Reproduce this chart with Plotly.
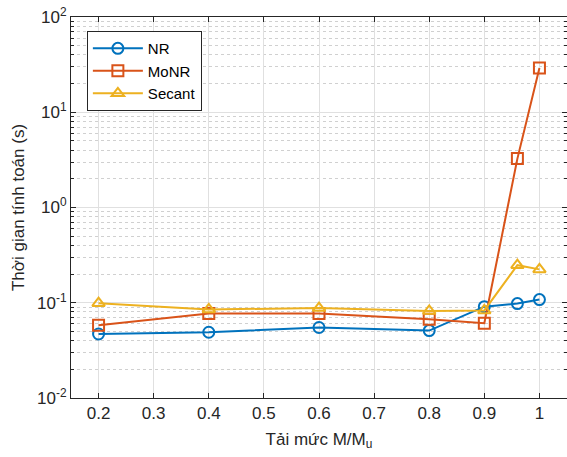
import plotly.graph_objects as go

x_vals = [0.2, 0.4, 0.6, 0.8, 0.9, 0.96, 1.0]
nr = [0.047, 0.049, 0.055, 0.051, 0.091, 0.098, 0.108]
monr = [0.058, 0.077, 0.077, 0.067, 0.061, 3.26, 29.2]
secant = [0.099, 0.085, 0.088, 0.082, 0.083, 0.248, 0.224]

series_names = ["NR", "MoNR", "Secant"]
colors = ["#0072BD", "#D95319", "#EDB120"]
symbols = ["circle-open", "square-open", "triangle-up-open"]

x_ticks = [0.2, 0.3, 0.4, 0.5, 0.6, 0.7, 0.8, 0.9, 1.0]
x_ticktext = ["0.2", "0.3", "0.4", "0.5", "0.6", "0.7", "0.8", "0.9", "1"]
y_ticks = [0.01, 0.1, 1, 10, 100]
y_ticktext = ["10<sup>-2</sup>", "10<sup>-1</sup>", "10<sup>0</sup>", "10<sup>1</sup>", "10<sup>2</sup>"]

fig = go.Figure()
for name, ys, c, s in zip(series_names, [nr, monr, secant], colors, symbols):
    fig.add_trace(go.Scatter(
        x=x_vals, y=ys, name=name, mode="lines+markers",
        line=dict(color=c, width=2),
        marker=dict(symbol=s, size=11, color=c, line=dict(color=c, width=2)),
    ))

font = "Liberation Sans, Arial, sans-serif"
axis_col = "#262626"
fig.update_layout(
    width=567, height=457,
    margin=dict(l=71, r=0, t=17, b=59),
    paper_bgcolor="white", plot_bgcolor="white",
    font=dict(family=font, size=17, color=axis_col),
    legend=dict(
        x=0.032, y=0.963, xanchor="left", yanchor="top",
        bgcolor="white", bordercolor=axis_col, borderwidth=1,
        font=dict(size=15, color="#000000"), itemwidth=50,
        tracegroupgap=0,
    ),
    showlegend=True,
)
fig.update_xaxes(
    range=[0.15, 1.05], tickvals=x_ticks, ticktext=x_ticktext,
    showgrid=True, gridcolor="#e0e0e0", gridwidth=1,
    showline=True, linecolor=axis_col, linewidth=1, mirror="ticks",
    ticks="inside", ticklen=5, tickcolor=axis_col,
    zeroline=False, automargin=False,
    title=dict(text="Tải mức M/M<sub>u</sub>", font=dict(size=17), standoff=10),
    tickfont=dict(size=17),
)
fig.update_yaxes(
    type="log", range=[-2, 2], tickvals=y_ticks, ticktext=y_ticktext,
    showgrid=True, gridcolor="#e0e0e0", gridwidth=1,
    showline=True, linecolor=axis_col, linewidth=1, mirror="ticks",
    ticks="inside", ticklen=5, tickcolor=axis_col,
    minor=dict(showgrid=True, gridcolor="#d0d0d0", griddash="dot", ticks="inside",
               ticklen=3, tickcolor=axis_col,
               tickvals=[m * 10 ** e for e in [-2, -1, 0, 1] for m in range(2, 10)]),
    zeroline=False, automargin=False, ticklabeloverflow="allow",
    title=dict(text="Thời gian tính toán (s)", font=dict(size=17), standoff=8),
    tickfont=dict(size=17),
)

fig.write_html("out.html", config={"displayModeBar": False},
               post_script="document.body.style.margin='0px';")
